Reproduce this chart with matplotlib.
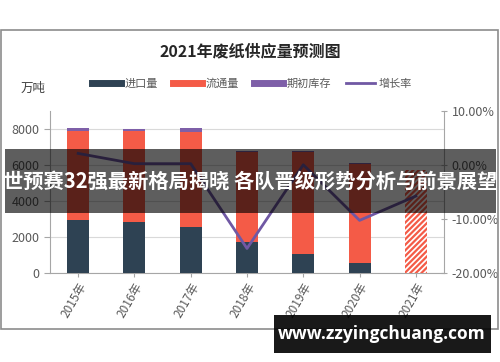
import matplotlib
matplotlib.use("Agg")
import matplotlib.pyplot as plt
from matplotlib.patches import Rectangle
from matplotlib.lines import Line2D
import numpy as np

plt.rcParams['font.family'] = ['Noto Sans CJK SC', 'DejaVu Sans']
plt.rcParams['hatch.linewidth'] = 1.6

years = ['2015年', '2016年', '2017年', '2018年', '2019年', '2020年', '2021年']
imports = [2960, 2870, 2590, 1720, 1070, 590, 0]
circulation = [4960, 5050, 5280, 5040, 5690, 5480, 0]
inventory = [150, 100, 200, 50, 50, 70, 0]
forecast_2021 = 5740
growth = [2.2, 0.3, 0.3, -15.4, 0.1, -10.2, -5.7]

c_imp = '#2E4253'
c_cir = '#F45B47'
c_inv = '#7E5FA8'
c_line = '#7058A4'
gray_txt = '#595959'

fig = plt.figure(figsize=(5, 3.62), dpi=100)
W, H = 500, 362

def fx(px):
    return px / W

def fy(py):
    return 1 - py / H

# chart frame
fig.patches.append(Rectangle((fx(1), fy(329)), fx(497), (329 - 30) / H,
                             transform=fig.transFigure, fill=False,
                             edgecolor='#8c8c8c', linewidth=1.2, zorder=0))

ax = fig.add_axes([fx(50), fy(273.3), fx(394), 162 / H])
x = np.arange(len(years))
bw = 0.39
imp = np.array(imports)
cir = np.array(circulation)
inv = np.array(inventory)
ax.bar(x[:6], imp[:6], width=bw, color=c_imp, zorder=3)
ax.bar(x[:6], cir[:6], width=bw, bottom=imp[:6], color=c_cir, zorder=3)
ax.bar(x[:6], inv[:6], width=bw, bottom=imp[:6] + cir[:6], color=c_inv, zorder=3)
ax.bar(x[6], forecast_2021, width=bw, color='white', edgecolor=c_cir,
       hatch='//////', linewidth=0, zorder=3)

ax.set_xlim(-0.5, 6.5)
ax.set_ylim(0, 9000)
ax.set_yticks([0, 2000, 4000, 6000, 8000])
ax.yaxis.grid(True, color='#d9d9d9', linewidth=0.8, zorder=0)
ax.set_axisbelow(True)
for s in ['top', 'right']:
    ax.spines[s].set_visible(False)
ax.spines['left'].set_color('#a6a6a6')
ax.spines['bottom'].set_color('#a6a6a6')
ax.tick_params(axis='y', colors='#a6a6a6', labelcolor=gray_txt, labelsize=9,
               length=4, width=0.8)
ax.set_xticks(x)
ax.set_xticklabels(years, rotation=60, ha='right', rotation_mode='anchor',
                   fontsize=8.5, color=gray_txt)
ax.tick_params(axis='x', colors='#a6a6a6', labelcolor=gray_txt, direction='inout',
               length=6, width=0.8, pad=2)

ax2 = ax.twinx()
ax2.plot(x, growth, color=c_line, linewidth=2, zorder=5)
ax2.set_ylim(-20, 10)
ax2.set_yticks([-20, -10, 0, 10])
ax2.set_yticklabels(['-20.00%', '-10.00%', '0.00%', '10.00%'])
for s in ['top', 'left', 'bottom']:
    ax2.spines[s].set_visible(False)
ax2.spines['right'].set_color('#a6a6a6')
ax2.tick_params(axis='y', colors='#a6a6a6', labelcolor=gray_txt, labelsize=9,
                length=4, width=0.8, direction='inout')

# title and labels
fig.text(0.5, fy(51), '2021年废纸供应量预测图', ha='center', va='center',
         fontsize=11.5, fontweight='bold', color='#262626')
fig.text(fx(33), fy(88), '万吨', ha='center', va='center', fontsize=9, color='#404040')

handles = [Line2D([], [], color=c_imp, linewidth=5),
           Line2D([], [], color=c_cir, linewidth=5),
           Line2D([], [], color=c_inv, linewidth=5),
           Line2D([], [], color=c_line, linewidth=2)]
labels = ['进口量', '流通量', '期初库存', '增长率']
fig.legend(handles, labels, loc='center', bbox_to_anchor=(fx(252), fy(84)),
           ncol=4, frameon=False, fontsize=8, handlelength=2.6,
           columnspacing=1.4, handletextpad=0.3, labelcolor=gray_txt)

# banner overlay
fig.patches.append(Rectangle((fx(5), fy(212.7)), fx(491), (212.7 - 149) / H,
                             transform=fig.transFigure, facecolor='black',
                             alpha=0.63, edgecolor='none', zorder=10))
fig.text(fx(250), fy(181), '世预赛32强最新格局揭晓 各队晋级形势分析与前景展望',
         ha='center', va='center', fontsize=14.6, fontweight='bold',
         color='white', zorder=11)

# watermark
fig.patches.append(Rectangle((fx(274), fy(352.7)), fx(217), (352.7 - 315) / H,
                             transform=fig.transFigure, facecolor='black',
                             alpha=0.9, edgecolor='none', zorder=10))
fig.text(fx(382), fy(334), 'www.zzyingchuang.com', ha='center', va='center',
         fontsize=12.5, fontweight='bold', color='white', zorder=11,
         family=['Open Sans', 'DejaVu Sans'])

fig.savefig('out.png', dpi=100)
